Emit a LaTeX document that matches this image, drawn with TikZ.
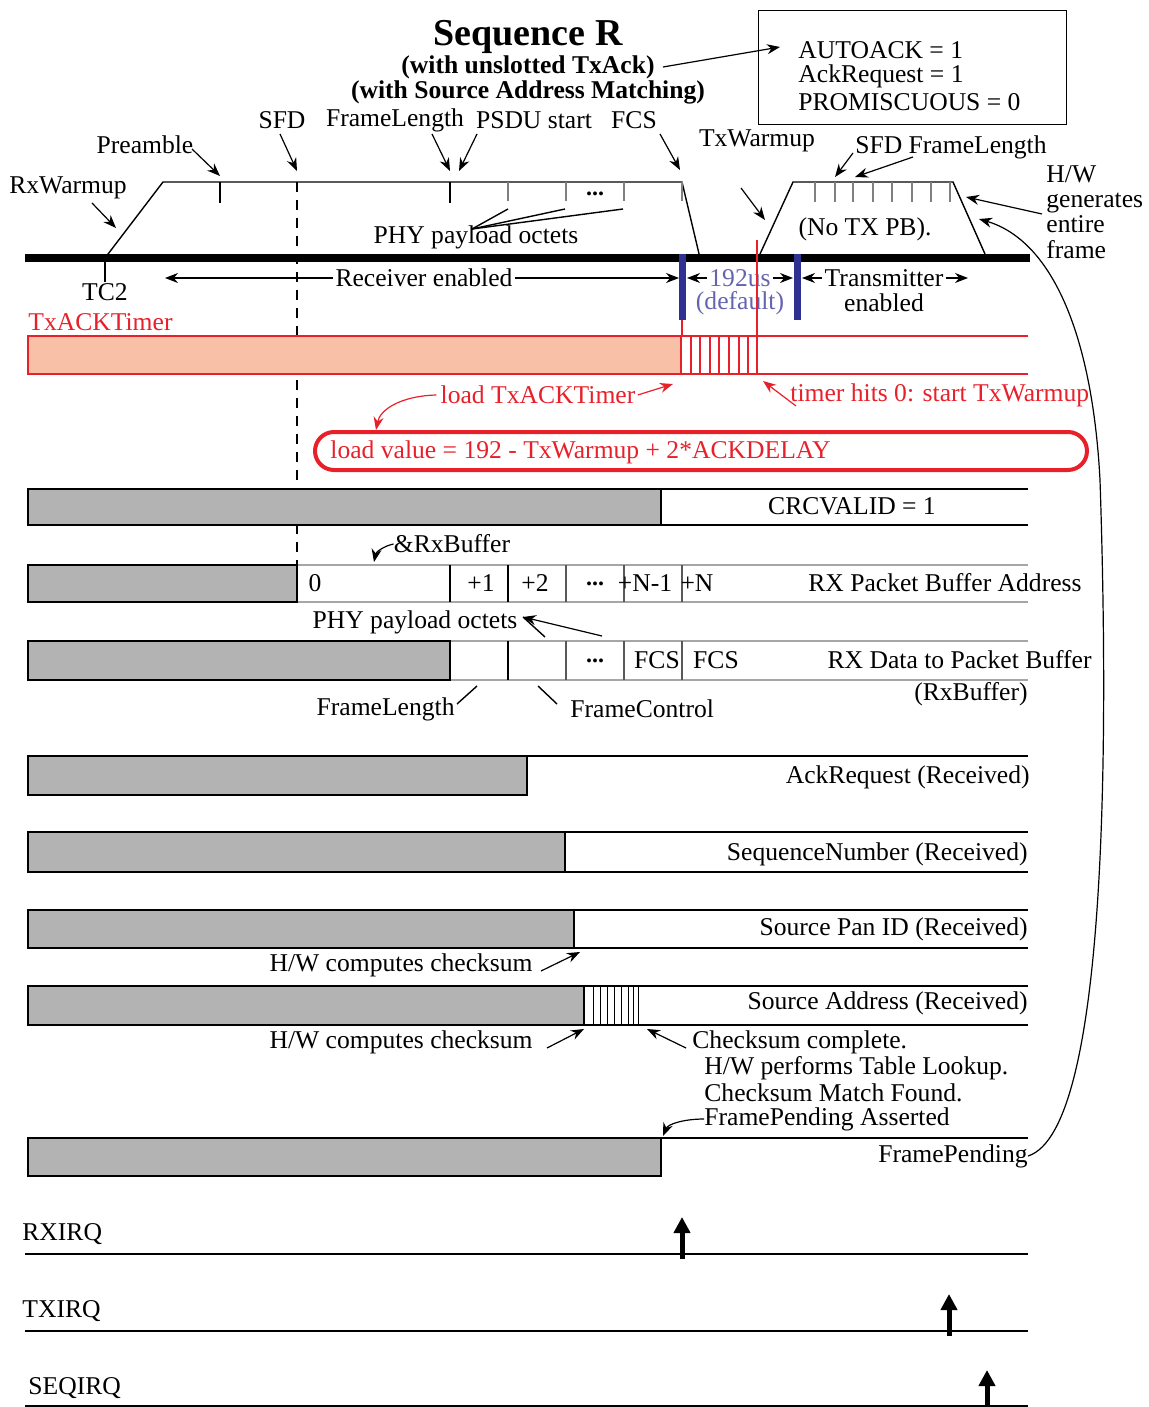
\documentclass[tikz,border=0pt]{standalone}
\usepackage{fontspec}
\setmainfont{Liberation Serif}
\usetikzlibrary{arrows.meta}
\definecolor{tired}{RGB}{232,32,42}
\definecolor{salmon}{RGB}{249,192,168}
\definecolor{barblue}{RGB}{46,49,146}
\definecolor{usblue}{RGB}{100,100,175}
\definecolor{sigfill}{RGB}{179,179,179}
\begin{document}
\begin{tikzpicture}[x=0.5pt,y=-0.5pt,
  txt/.style={inner sep=0pt, font=\fontsize{12.8}{15}\selectfont},
  btxt/.style={inner sep=0pt, font=\bfseries\fontsize{12.8}{15}\selectfont},
  rtxt/.style={txt, text=tired},
  dots/.style={inner sep=0pt, font=\bfseries\fontsize{12}{12}\selectfont},
  arr/.style={-{Stealth[length=6.5pt,width=5pt]}, line width=0.6pt},
  rarr/.style={arr, draw=tired},
  ln/.style={line width=0.7pt},
  tick/.style={line width=0.7pt, draw=gray},
  sig/.style={draw, line width=0.7pt, fill=sigfill},
  buf/.style={draw=gray!70, line width=1.4pt},
  irqline/.style={line width=1.4pt},
  irq/.style={-{Triangle[length=8pt,width=8pt]}, line width=2.5pt},
]
\useasboundingbox (0,0) rectangle (1148,1407);

% ---------- title and config box ----------
\node[inner sep=0pt, font=\bfseries\fontsize{19}{21}\selectfont] (title) at (528,37) {Sequence R};
\node[btxt] (sub1) at (528,67) {(with unslotted TxAck)};
\node[btxt] (sub2) at (528,92) {(with Source Address Matching)};
\node[draw, line width=0.7pt, inner sep=0pt, minimum width=154pt, minimum height=57pt, anchor=north west] (cfg) at (758,10) {};
\node[txt, anchor=west] (ack1) at (798,50) {AUTOACK = 1};
\node[txt, anchor=west] (ack2) at (798,76) {AckRequest = 1};
\node[txt, anchor=west] (ack3) at (798,102) {PROMISCUOUS = 0};
\coordinate (cfgtip) at (780,47);
\draw[arr] ([xshift=4pt]sub1.east) -- (cfgtip);

% ---------- top labels ----------
\node[txt] (lsfd) at (282,120) {SFD};
\node[txt] (lfl) at (395,120) {FrameLength};
\node[txt] (lpsdu) at (534,120) {PSDU start};
\node[txt] (lfcs) at (634,120) {FCS};
\node[txt] (lpre) at (145,145) {Preamble};
\node[txt] (lrxw) at (68,188) {RxWarmup};
\node[txt] (ltxw) at (757,141) {TxWarmup};
\node[txt] (ltxsfd) at (951,147) {SFD FrameLength};
\node[txt, align=left, anchor=west, font=\fontsize{12.8}{12.65}\selectfont] (hw) at (1046,212) {H/W\\generates\\entire\\frame};

\coordinate (tpre) at (220,176);
\coordinate (trxw) at (116,228);
\coordinate (tsfd) at (297,171);
\coordinate (tfl) at (450,171);
\coordinate (tpsdu) at (459,171);
\coordinate (tfcs) at (680,170);
\coordinate (ttxw) at (765,220);
\coordinate (ttxsfd) at (835,177);
\coordinate (ttxfl) at (855,177);
\coordinate (thw) at (966,197);
\draw[arr] (192,149) -- (tpre);
\draw[arr] (92,203) -- (trxw);
\draw[arr] (280,134) -- (tsfd);
\draw[arr] (432,134) -- (tfl);
\draw[arr] (477,134) -- (tpsdu);
\draw[arr] (660,134) -- (tfcs);
\draw[arr] (741,188) -- (ttxw);
\draw[arr] (853,153) -- (ttxsfd);
\draw[arr] (913,157) -- (ttxfl);
\draw[arr] (1042,214) -- (thw);

% ---------- receive frame ----------
\draw[ln] (105,258) -- (163,182) -- (682,182) -- (700,258);
\draw[ln] (220,182) -- (220,203);
\draw[ln] (450,182) -- (450,203);
\foreach \x in {508,566,624,682} \draw[tick] (\x,182) -- (\x,201);
\node[dots] (tdots) at (595,194) {...};
\coordinate (phyc) at (472,229);
\draw[ln] (508,209) -- (phyc);
\draw[ln] (565,209) -- (phyc);
\draw[ln] (623,209) -- (phyc);
\node[txt] (phy1) at (476,237) {PHY payload octets};
\draw[ln, dash pattern=on 5pt off 4pt] (297,182) -- (297,565);

% ---------- transmit frame ----------
\draw[ln] (760,254) -- (793,182) -- (953,182) -- (985,254);
\foreach \x in {815,835,853,873,892,912,931,950} \draw[tick] (\x,182) -- (\x,202);
\node[txt] (notx) at (865,229) {(No TX PB).};

% ---------- time line ----------
\draw[line width=4pt] (25,258) -- (1030,258);
\draw[ln] (105,258) -- (105,282);
\node[txt] (tc2) at (105,292) {TC2};
\node[txt, fill=white, inner sep=1pt] (rxen) at (424,278) {Receiver enabled};
\coordinate (rxl) at (165,278);
\coordinate (rxr) at (679,278);
\draw[arr] (rxen.west) -- (rxl);
\draw[arr] (rxen.east) -- (rxr);
\fill[barblue] (679,254) rectangle (686,320);
\fill[barblue] (794,254) rectangle (801,320);
\node[txt, text=usblue] (us) at (740,278) {192us};
\node[txt, text=usblue] (dflt) at (740,303) {(default)};
\node[txt] (tren) at (884,278) {Transmitter};
\node[txt] (tren2) at (884,303) {enabled};
\coordinate (b1r) at (687,278);
\coordinate (b2l) at (793,278);
\coordinate (b2r) at (802,278);
\coordinate (trr) at (968,278);
\draw[arr] ([xshift=-1pt]us.west) -- (b1r);
\draw[arr] ([xshift=1pt]us.east) -- (b2l);
\draw[arr] ([xshift=-1pt]tren.west) -- (b2r);
\draw[arr] ([xshift=1pt]tren.east) -- (trr);

% ---------- TxACKTimer ----------
\node[rtxt, anchor=west] (timerlbl) at (28,322) {TxACKTimer};
\draw[draw=tired, fill=salmon, line width=0.7pt] (28,336) rectangle (681,374);
\draw[draw=tired, line width=0.7pt] (681,336) -- (1028,336) (681,374) -- (1028,374);
\foreach \x in {691,700,710,719,729,739,748} \draw[draw=tired, line width=0.6pt] (\x,336) -- (\x,374);
\draw[draw=tired, line width=0.8pt] (757,240) -- (757,374);
\draw[draw=tired, line width=0.8pt] (682,320) -- (682,336);
\node[rtxt] (loadtx) at (538,395) {load TxACKTimer};
\coordinate (tload) at (673,384);
\coordinate (tpill) at (376,430);
\draw[rarr] ([xshift=1pt]loadtx.east) -- (tload);
\draw[rarr] ([xshift=-2pt]loadtx.west) .. controls (400,396) and (380,410) .. (tpill);
\node[rtxt, anchor=west] (hits) at (790,395) {timer hits 0: start TxWarmup};
\coordinate (thits) at (763,381);
\draw[rarr] (796,406) -- (thits);
\node[draw=tired, line width=2pt, rounded corners=9.5pt, minimum width=386pt, minimum height=19pt, inner sep=0pt] (pill) at (701,451) {};
\node[rtxt, anchor=west] (loadval) at (330,452) {load value = 192 - TxWarmup + 2*ACKDELAY};

% ---------- CRCVALID ----------
\draw[ln] (661,489) -- (1028,489) (661,525) -- (1028,525);
\draw[sig] (28,489) rectangle (661,525);
\node[txt] (crc) at (852,506) {CRCVALID = 1};

% ---------- RX packet buffer address ----------
\draw[buf] (297,565) -- (1028,565) (297,602) -- (1028,602);
\draw[sig] (28,565) rectangle (297,602);
\draw[ln] (450,565) -- (450,602) (508,565) -- (508,602);
\foreach \x in {566,624,682} \draw[line width=0.7pt, draw=black!65] (\x,565) -- (\x,602);
\node[txt] (a0) at (315,583) {0};
\node[txt] (a1) at (481,583) {+1};
\node[txt] (a2) at (535,583) {+2};
\node[dots] (adots) at (595,584) {...};
\node[txt] (an1) at (645,583) {+N-1};
\node[txt] (an) at (697,583) {+N};
\node[txt, anchor=east] (abuf) at (1082,583) {RX Packet Buffer Address};
\node[txt] (rxb) at (452,544) {\&RxBuffer};
\coordinate (trxb) at (374,562);
\draw[arr] (rxb.west) .. controls (384,546) and (376,552) .. (trxb);

% ---------- RX data ----------
\draw[buf] (450,641) -- (1028,641) (450,680) -- (1028,680);
\draw[sig] (28,641) rectangle (450,680);
\draw[ln] (508,641) -- (508,680);
\foreach \x in {566,624,682} \draw[line width=0.7pt, draw=black!65] (\x,641) -- (\x,680);
\node[dots] (ddots) at (595,661) {...};
\node[txt] (dfcs1) at (657,660) {FCS};
\node[txt] (dfcs2) at (716,660) {FCS};
\node[txt, anchor=east] (dbuf) at (1092,660) {RX Data to Packet Buffer};
\node[txt, anchor=east] (dbuf2) at (1028,694) {(RxBuffer)};
\node[txt] (phy2) at (415,622) {PHY payload octets};
\coordinate (phy2c) at (523,617);
\draw[ln] (545,637) -- (phy2c);
\draw[arr] (602,636) -- (phy2c);
\node[txt, anchor=east] (bfl) at (455,709) {FrameLength};
\node[txt, anchor=west] (bfc) at (570,709) {FrameControl};
\draw[ln] (457,704) -- (477,686);
\draw[ln] (557,704) -- (538,686);

% ---------- received fields ----------
\draw[ln] (527,756) -- (1028,756);
\draw[sig] (28,756) rectangle (527,795);
\node[txt, anchor=east] (ackr) at (1030,777) {AckRequest (Received)};

\draw[ln] (565,832) -- (1028,832) (565,872) -- (1028,872);
\draw[sig] (28,832) rectangle (565,872);
\node[txt, anchor=east] (seqn) at (1028,854) {SequenceNumber (Received)};

\draw[ln] (574,910) -- (1028,910) (574,948) -- (1028,948);
\draw[sig] (28,910) rectangle (574,948);
\node[txt, anchor=east] (span) at (1028,929) {Source Pan ID (Received)};
\node[txt, anchor=east] (hwc1) at (533,965) {H/W computes checksum};
\coordinate (thwc1) at (580,952);
\draw[arr] (541,971) -- (thwc1);

\draw[ln] (584,986) -- (1028,986) (584,1025) -- (1028,1025);
\draw[sig] (28,986) rectangle (584,1025);
\foreach \x in {593,600,607,614,621,628,633,638} \draw[line width=0.5pt] (\x,986) -- (\x,1025);
\node[txt, anchor=east] (saddr) at (1028,1003) {Source Address (Received)};
\node[txt, anchor=east] (hwc2) at (533,1042) {H/W computes checksum};
\coordinate (thwc2) at (584,1029);
\draw[arr] (547,1048) -- (thwc2);
\node[txt, anchor=west] (cs1) at (692,1042) {Checksum complete.};
\node[txt, anchor=west] (cs2) at (704,1068) {H/W performs Table Lookup.};
\node[txt, anchor=west] (cs3) at (704,1093) {Checksum Match Found.};
\node[txt, anchor=west] (cs4) at (704,1119) {FramePending Asserted};
\coordinate (tcs) at (647,1029);
\draw[arr] (686,1048) -- (tcs);
\coordinate (tfp) at (663,1136);
\draw[arr] (cs4.west) .. controls (684,1119) and (668,1124) .. (tfp);

\draw[ln] (661,1138) -- (1028,1138);
\draw[sig] (28,1138) rectangle (661,1176);
\node[txt, anchor=east] (fp) at (1028,1156) {FramePending};
\coordinate (thw2) at (979,219);
\draw[arr] (fp.east) .. controls (1110,1130) and (1108,720) .. (1100,480) .. controls (1092,330) and (1050,240) .. (thw2);

% ---------- IRQs ----------
\node[txt, anchor=west] (rxirq) at (22,1234) {RXIRQ};
\draw[irqline] (25,1254) -- (1028,1254);
\draw[irq] (682,1259) -- (682,1217);
\node[txt, anchor=west] (txirq) at (22,1311) {TXIRQ};
\draw[irqline] (25,1331) -- (1028,1331);
\draw[irq] (949,1336) -- (949,1294);
\node[txt, anchor=west] (seqirq) at (28,1388) {SEQIRQ};
\draw[irqline] (25,1406) -- (1028,1406);
\draw[irq] (987,1412) -- (987,1370);
\end{tikzpicture}
\end{document}
